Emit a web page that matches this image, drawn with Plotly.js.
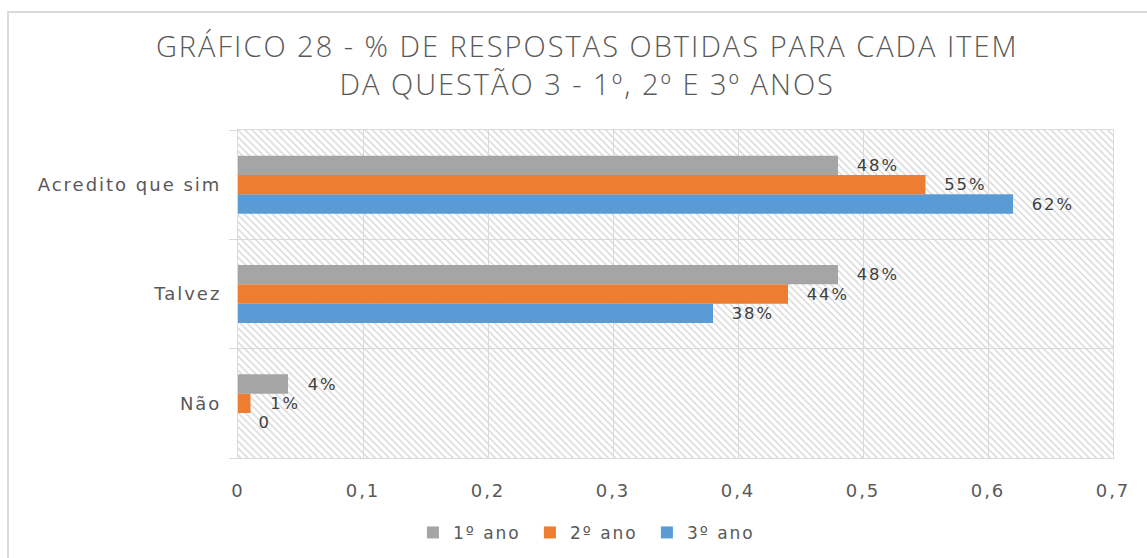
<!DOCTYPE html>
<html>
<head>
<meta charset="utf-8">
<script src="https://cdn.plot.ly/plotly-3.0.1.min.js"></script>
<style>
  html, body { margin: 0; padding: 0; background: #fff; }
  #wrap { position: relative; width: 1147px; height: 558px; }
  #chart { width: 1147px; height: 558px; }
  #frame { position: absolute; left: 7px; top: 11px; width: 1140px; height: 547px;
           border-left: 2px solid #dadada; border-top: 2px solid #dadada; pointer-events: none; box-sizing: border-box; }
  #chart g.xtick text, #chart g.y2tick text, #chart text.bartext, #chart text.legendtext { letter-spacing: 2px; }
  #chart text.gtitle { letter-spacing: 2px; }
</style>
</head>
<body>
<div id="wrap">
  <div id="chart"></div>
  <div id="frame"></div>
</div>
<script>
const categories = ['Não', 'Talvez', 'Acredito que sim'];
const seriesNames = ['1º ano', '2º ano', '3º ano'];
const ano1 = [0.04, 0.48, 0.48];
const ano2 = [0.01, 0.44, 0.55];
const ano3 = [0.00, 0.38, 0.62];
const seriesColors = ['#a5a5a5', '#ed7d31', '#5b9bd5'];
const xTicks = [0, 0.1, 0.2, 0.3, 0.4, 0.5, 0.6, 0.7];

const pad = '\u00a0\u00a0\u00a0';
function label(v) { return pad + (v === 0 ? '0' : Math.round(v * 100) + '%'); }

const seriesValues = [ano1, ano2, ano3];
const traces = [];

// background hatch on base axis
traces.push({
  type: 'bar', orientation: 'h',
  x: [xTicks[xTicks.length - 1]], y: [0.5], width: [1], base: [0],
  xaxis: 'x', yaxis: 'y',
  marker: { color: '#d9d9d9', line: { width: 0 },
            pattern: { shape: '\\', size: 5, solidity: 0.3, fillmode: 'replace' } },
  hoverinfo: 'skip', showlegend: false
});

// real series, reversed so 1º ano is top of each group
for (let i = seriesValues.length - 1; i >= 0; i--) {
  traces.push({
    type: 'bar', orientation: 'h',
    name: seriesNames[i],
    y: categories, x: seriesValues[i],
    xaxis: 'x', yaxis: 'y2',
    marker: { color: seriesColors[i], line: { width: 0 } },
    text: seriesValues[i].map(label),
    textposition: 'outside',
    cliponaxis: false,
    textfont: { family: 'DejaVu Sans', size: 17, color: '#404040' },
    hoverinfo: 'x+name'
  });
}

const layout = {
  width: 1147, height: 558,
  margin: { l: 238, r: 34, t: 130, b: 100 },
  paper_bgcolor: 'rgba(0,0,0,0)',
  plot_bgcolor: 'rgba(0,0,0,0)',
  separators: ',.',
  barmode: 'group',
  bargap: 0.47,
  bargroupgap: 0,
  title: {
    text: 'GRÁFICO 28 - % DE RESPOSTAS OBTIDAS PARA CADA ITEM<br>DA QUESTÃO 3 - 1º, 2º E 3º ANOS',
    font: { family: 'Open Sans, DejaVu Sans, sans-serif', size: 29, weight: 300, color: '#595959' },
    xref: 'container', x: 0.512, xanchor: 'center',
    yref: 'container', y: 0.897, yanchor: 'middle'
  },
  xaxis: {
    range: [0, 0.7],
    tickvals: xTicks,
    showgrid: true, gridcolor: '#d9d9d9', gridwidth: 1,
    zeroline: false,
    showline: true, linecolor: '#d9d9d9', mirror: true,
    ticks: '', ticklabelstandoff: 16,
    tickfont: { family: 'DejaVu Sans', size: 18, color: '#595959' },
    fixedrange: true
  },
  yaxis: {
    range: [0, 1], visible: false, showgrid: false, fixedrange: true
  },
  yaxis2: {
    overlaying: 'y', side: 'left', anchor: 'x',
    type: 'category',
    categoryorder: 'array', categoryarray: categories,
    tickson: 'boundaries',
    showgrid: true, gridcolor: '#d9d9d9', gridwidth: 1,
    ticks: 'outside', ticklen: 8, tickcolor: '#d9d9d9',
    showline: true, linecolor: '#d9d9d9', mirror: true,
    ticklabelstandoff: 12,
    tickfont: { family: 'DejaVu Sans', size: 18, color: '#595959' },
    fixedrange: true
  },
  legend: {
    orientation: 'h', traceorder: 'reversed',
    xref: 'container', x: 0.513, xanchor: 'center',
    yref: 'container', y: 0.045, yanchor: 'middle',
    font: { family: 'DejaVu Sans', size: 17, color: '#595959' },
    itemwidth: 30,
    entrywidth: 72, entrywidthmode: 'pixels'
  },
  showlegend: true
};

Plotly.newPlot('chart', traces, layout, { displayModeBar: false, staticPlot: true });
</script>
</body>
</html>
